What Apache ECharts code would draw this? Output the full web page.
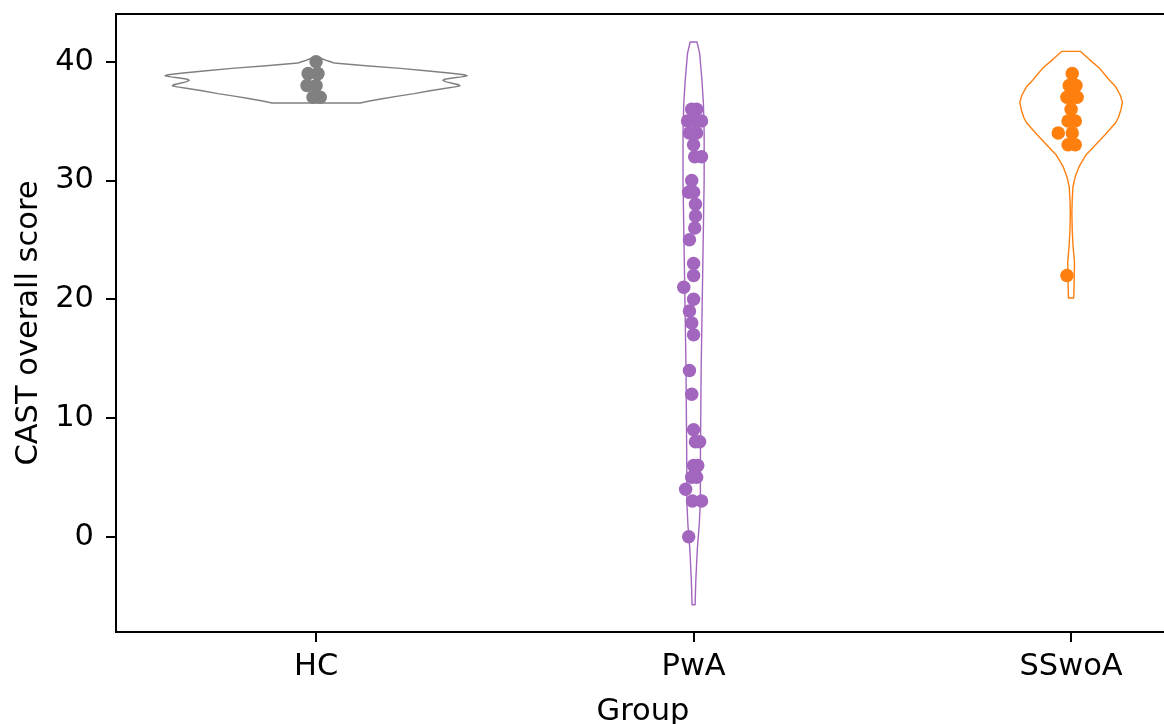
<!DOCTYPE html>
<html>
<head>
<meta charset="utf-8">
<title>CAST overall score by group</title>
<script src="https://cdn.jsdelivr.net/npm/echarts@6/dist/echarts.min.js"></script>
<style>
html,body{margin:0;padding:0;background:#fff;}
#main{width:1164px;height:724px;}
</style>
</head>
<body>
<div id="main"></div>
<script>
var groups = ['HC', 'PwA', 'SSwoA'];
var colors = ['#808080', '#a366bf', '#ff7f0e'];
var yTicks = [0, 10, 20, 30, 40];

// strip points: score + horizontal jitter (in category widths)
var hcScores = [40, 39, 39, 38, 38, 37, 37];
var hcJitter = [0, -0.021, 0.005, -0.024, 0, -0.008, 0.011];

var pwaScores = [36, 36, 35, 35, 35, 34, 34, 33, 32, 32, 30, 29, 29, 28, 27, 26, 25, 23, 22, 21,
                 20, 19, 18, 17, 14, 12, 9, 8, 8, 6, 6, 5, 5, 4, 3, 3, 0];
var pwaJitter = [-0.005, 0.008, -0.016, 0.003, 0.021, -0.011, 0.008, 0, 0.003, 0.021, -0.005, -0.013, 0,
                 0.005, 0.005, 0.003, -0.011, 0, 0, -0.026, 0, -0.011, -0.005, 0, -0.011, -0.005, 0,
                 0.005, 0.016, 0, 0.011, -0.005, 0.008, -0.021, -0.003, 0.021, -0.013];

var sswoaScores = [39, 38, 38, 37, 37, 37, 36, 35, 35, 34, 34, 33, 33, 22];
var sswoaJitter = [0.003, -0.005, 0.013, -0.011, 0.005, 0.016, 0, -0.008, 0.011, -0.034, 0.003, -0.008, 0.011, -0.011];

// violin outlines: [score, half width in category widths]
var hcViolin = [[40.42, 0.003], [40.33, 0.010], [40.25, 0.016], [40.08, 0.030], [39.89, 0.048], [39.66, 0.132],
                [39.44, 0.223], [39.24, 0.291], [39.03, 0.358], [38.90, 0.392], [38.82, 0.400], [38.72, 0.385],
                [38.65, 0.366], [38.52, 0.340], [38.43, 0.336], [38.30, 0.345], [38.19, 0.360], [38.06, 0.378],
                [37.98, 0.381], [37.88, 0.368], [37.77, 0.344], [37.56, 0.302],
                [37.31, 0.260], [37.10, 0.217], [36.88, 0.175], [36.67, 0.138], [36.52, 0.117]];
var pwaViolin = [[41.66, 0.009], [40.73, 0.016], [38.5, 0.022], [36.5, 0.026], [34, 0.028],
                 [30, 0.028], [26, 0.026], [22, 0.024], [18, 0.022], [14, 0.020], [10, 0.019],
                 [6, 0.018], [3, 0.018], [1, 0.015], [-1, 0.010], [-3.6, 0.006], [-5.73, 0.004]];
var sswoaViolin = [[40.87, 0.025], [40.2, 0.048], [39.5, 0.074], [38.5, 0.100], [37.9, 0.118],
                   [37.2, 0.130], [36.6, 0.136], [35.96, 0.132], [35.28, 0.125], [34.86, 0.118],
                   [33.85, 0.090], [33.01, 0.065], [32.17, 0.040], [31.16, 0.021], [30.32, 0.011],
                   [29.47, 0.005], [28.38, 0.003], [27.28, 0.002], [25.85, 0.003], [24.59, 0.005],
                   [23.07, 0.009], [21.39, 0.008], [20.10, 0.007]];

var violins = [hcViolin, pwaViolin, sswoaViolin];
var scores = [hcScores, pwaScores, sswoaScores];
var jitters = [hcJitter, pwaJitter, sswoaJitter];

var font = 'DejaVu Sans';
var chart = echarts.init(document.getElementById('main'));

function violinItem(params, api) {
  var g = api.value(0);
  var prof = violins[g];
  var pts = [];
  for (var i = 0; i < prof.length; i++) pts.push(api.coord([g + prof[i][1], prof[i][0]]));
  for (var j = prof.length - 1; j >= 0; j--) pts.push(api.coord([g - prof[j][1], prof[j][0]]));
  return {
    type: 'polygon',
    shape: {points: pts},
    style: {fill: 'none', stroke: colors[g], lineWidth: 1.4, lineJoin: 'round'}
  };
}

var series = [{
  type: 'custom',
  renderItem: violinItem,
  data: [[0, 0], [1, 0], [2, 0]],
  silent: true,
  z: 1
}];
for (var g = 0; g < groups.length; g++) {
  var pts = [];
  for (var k = 0; k < scores[g].length; k++) pts.push([g + jitters[g][k], scores[g][k]]);
  series.push({
    name: groups[g],
    type: 'scatter',
    data: pts,
    symbolSize: 13.5,
    itemStyle: {color: colors[g], opacity: 1},
    z: 3
  });
}

var option = {
  animation: false,
  grid: {
    left: 116, top: 14, right: -6, bottom: 92,
    outerBoundsMode: 'none',
    show: true, borderColor: '#000', borderWidth: 2, backgroundColor: 'transparent'
  },
  xAxis: {
    type: 'value',
    min: -0.53,
    max: 2.262,
    name: 'Group',
    nameLocation: 'middle',
    nameGap: 65,
    nameTextStyle: {fontFamily: font, fontSize: 30.5, color: '#000'},
    splitLine: {show: false},
    axisLine: {show: true, onZero: false, lineStyle: {color: '#000', width: 2}},
    axisTick: {show: true, customValues: [0, 1, 2], length: 10, lineStyle: {color: '#000', width: 2}},
    axisLabel: {
      customValues: [0, 1, 2],
      margin: 20,
      fontFamily: font, fontSize: 30.5, color: '#000',
      formatter: function (v) { return groups[Math.round(v)]; }
    }
  },
  yAxis: {
    type: 'value',
    min: -8.03,
    max: 44.02,
    name: 'CAST overall score',
    nameLocation: 'middle',
    nameGap: 71,
    nameTextStyle: {fontFamily: font, fontSize: 30.5, color: '#000'},
    splitLine: {show: false},
    axisLine: {show: true, onZero: false, lineStyle: {color: '#000', width: 2}},
    axisTick: {show: true, customValues: yTicks, length: 10, lineStyle: {color: '#000', width: 2}},
    axisLabel: {
      customValues: yTicks,
      margin: 22,
      fontFamily: font, fontSize: 30.5, color: '#000'
    }
  },
  series: series
};
chart.setOption(option);
</script>
</body>
</html>
